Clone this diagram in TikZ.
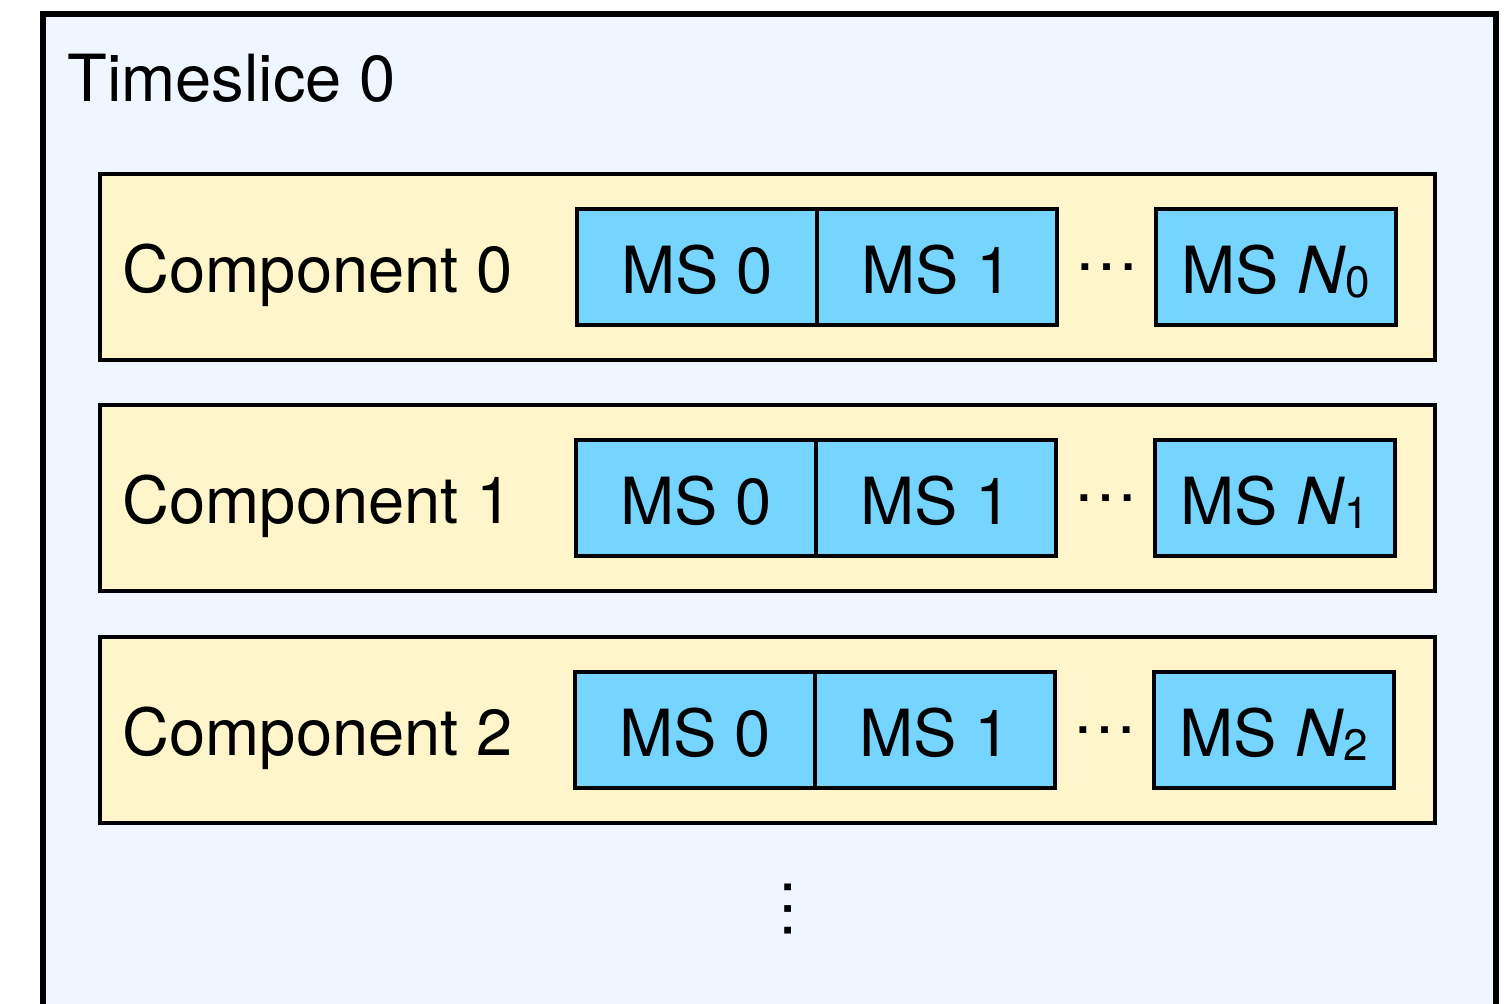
\documentclass[tikz,border=0pt]{standalone}
\usepackage{fontspec}
\setmainfont{TeX Gyre Heros}
\usetikzlibrary{positioning, calc}
\definecolor{sliceblue}{HTML}{EFF6FF}
\definecolor{compyellow}{HTML}{FEF5CA}
\definecolor{mscyan}{HTML}{76D5FE}
\newcommand{\msidx}[1]{\raisebox{-2pt}{\fontsize{22}{24}\selectfont #1}}

\begin{document}
\begin{tikzpicture}[x=0.5pt, y=-0.5pt, font=\fontsize{32.5}{38}\selectfont,
  comp/.style={draw, line width=2.4pt, fill=compyellow, outer sep=0pt, minimum width=667.5pt, minimum height=93pt},
  ms/.style={draw, line width=2.4pt, fill=mscyan, outer sep=0pt, inner sep=0pt, minimum width=120pt, minimum height=58pt, text height=26pt, text depth=0pt},
  label/.style={anchor=base west, inner sep=0pt},
  dotsnode/.style={inner sep=0pt}]
\useasboundingbox (0,0) rectangle (1512,1003);
\clip (0,0) rectangle (1512,1003);
% timeslice frame, runs on past the bottom edge
\fill[sliceblue] (43,14) rectangle (1496,1030);
\draw[line width=2.6pt] (43,1030) -- (43,14) -- (1496,14) -- (1496,1030);
\node[label] (slice) at (67,101) {Timeslice 0};

% one row per component
\foreach \i/\y/\dx in {0/267/0, 1/498/-1, 2/730/-2} {
  \node[comp] (comp\i) at (767.5,\y) {};
  \node[label] (name\i) at (122,\y+25) {Component \i};
  \node[ms] (ms\i a) at (697+\dx,\y) {MS 0};
  \node[ms, right=0pt of ms\i a] (ms\i b) {MS 1};
  \node[ms] (ms\i n) at (1276+\dx,\y) {MS \textit{N}\msidx{\i}};
  \node[dotsnode] (dots\i) at ($(ms\i b.east)!0.5!(ms\i n.west)$) {…};
}

% more components below
\node[dotsnode, rotate=90] (vdots) at (788,909) {…};
\end{tikzpicture}
\end{document}
